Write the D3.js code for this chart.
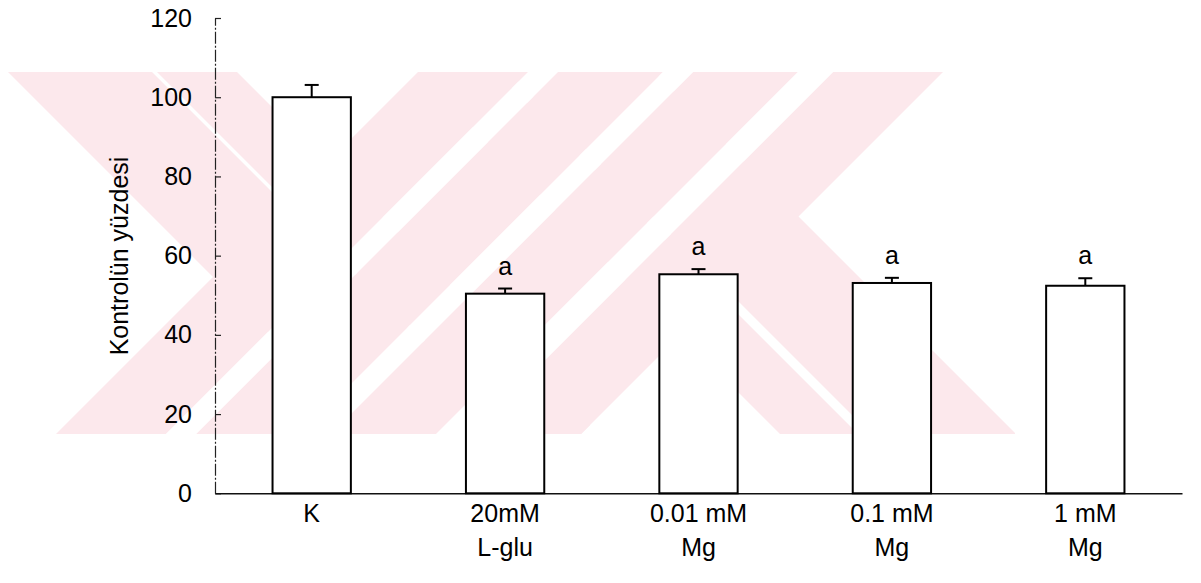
<!DOCTYPE html>
<html>
<head>
<meta charset="utf-8">
<script src="https://cdn.jsdelivr.net/npm/d3@7"></script>
<style>
    body { margin: 0; background: #ffffff; }
    svg { display: block; font-family: "Liberation Sans", Arial, Helvetica, sans-serif; }
</style>
</head>
<body>
<svg id="chart" width="1201" height="583"></svg>
<script>

var categories = ["K", "20mM L-glu", "0.01 mM Mg", "0.1 mM Mg", "1 mM Mg"]
var categoryLines = [["K"], ["20mM", "L-glu"], ["0.01 mM", "Mg"], ["0.1 mM", "Mg"], ["1 mM", "Mg"]]
var means = [100, 50.4, 55.3, 53.1, 52.4]
var errors = [3.1, 1.3, 1.3, 1.3, 1.9]
var significance = ["", "a", "a", "a", "a"]
var yTicks = [0, 20, 40, 60, 80, 100, 120]

// faint thesis watermark behind the plot, made of 45 degree bands
// kind "/" keeps x + y between from..to, kind "\\" keeps x - y between from..to
var watermarkBands = [
    { kind: "\\", from: -64, to: 80 },
    { kind: "\\", from: 85, to: 165, maxSum: 1015 },
    { kind: "/", from: 490, to: 600 },
    { kind: "/", from: 630, to: 735 },
    { kind: "/", from: 765, to: 870 },
    { kind: "/", from: 905, to: 1015 },
    { kind: "\\", from: 346, to: 424 },
    { kind: "\\", from: 437, to: 582 }
]
var watermarkGaps = [
    { kind: "/", from: 600, to: 630 },
    { kind: "/", from: 735, to: 765 },
    { kind: "/", from: 870, to: 905 }
]

var width = 1201
var height = 583
var axisLeftX = 215
var axisRightX = 1182
var axisBottomY = 493.3
var axisTopY = 18

var svg = d3.select("#chart")

var x = d3.scaleBand()
    .domain(categories)
    .range([axisLeftX, axisRightX])
    .paddingInner(0.595)
    .paddingOuter(0.2975)

var y = d3.scaleLinear()
    .domain([0, 120])
    .range([axisBottomY, axisTopY])

function bandPolygon(band, top, bottom) {
    if (band.kind === "/") {
        return [[band.from - top, top], [band.to - top, top], [band.to - bottom, bottom], [band.from - bottom, bottom]]
    }
    return [[band.from + top, top], [band.to + top, top], [band.to + bottom, bottom], [band.from + bottom, bottom]]
}

function drawWatermark(container) {
    var top = 72
    var bottom = 434
    var defs = container.append("defs")
    defs.append("clipPath").attr("id", "watermarkClip")
        .append("rect")
        .attr("x", 8).attr("y", top)
        .attr("width", 1015 - 8).attr("height", bottom - top)
    defs.append("clipPath").attr("id", "watermarkSumClip")
        .append("polygon")
        .attr("points", [[0, 0], [1015, 0], [1015 - 600, 600], [0, 600]].join(" "))

    var group = container.append("g").attr("clip-path", "url(#watermarkClip)")

    watermarkBands.forEach(function (band) {
        group.append("polygon")
            .attr("points", bandPolygon(band, top, bottom).join(" "))
            .attr("clip-path", band.maxSum ? "url(#watermarkSumClip)" : null)
            .attr("fill", "#fce8ec")
    })
    watermarkGaps.forEach(function (band) {
        group.append("polygon")
            .attr("points", bandPolygon(band, top, bottom).join(" "))
            .attr("fill", "#ffffff")
    })
}

drawWatermark(svg)

var yAxis = d3.axisLeft(y)
    .tickValues(yTicks)
    .tickSizeInner(-6)
    .tickSizeOuter(0)
    .tickPadding(23)

var yAxisGroup = svg.append("g")
    .attr("transform", "translate(" + axisLeftX + ",0)")
    .call(yAxis)

yAxisGroup.select(".domain")
    .attr("stroke", "#222")
    .attr("stroke-width", 1.2)
    .attr("stroke-dasharray", "12,2,2,2")
yAxisGroup.selectAll(".tick line").attr("stroke", "#222").attr("stroke-width", 1.2)
yAxisGroup.selectAll(".tick text")
    .attr("font-size", 25)
    .attr("font-family", "Liberation Sans, Arial, sans-serif")
    .attr("fill", "#000")

var xAxis = d3.axisBottom(x)
    .tickSize(0)
    .tickPadding(29)

var xAxisGroup = svg.append("g")
    .attr("transform", "translate(0," + axisBottomY + ")")
    .call(xAxis)

xAxisGroup.select(".domain")
    .attr("stroke", "#111")
    .attr("stroke-width", 1.6)

xAxisGroup.selectAll(".tick text")
    .attr("font-size", 25)
    .attr("font-family", "Liberation Sans, Arial, sans-serif")
    .attr("fill", "#000")
    .each(function (d, i) {
        var text = d3.select(this)
        text.text(null)
        categoryLines[i].forEach(function (line, j) {
            text.append("tspan")
                .attr("x", 0)
                .attr("dy", j === 0 ? 0 : 34)
                .text(line)
        })
    })

var bars = svg.append("g")

categories.forEach(function (category, i) {
    var left = x(category)
    var centre = left + x.bandwidth() / 2
    var capHalf = 7

    bars.append("rect")
        .attr("x", left)
        .attr("y", y(means[i]))
        .attr("width", x.bandwidth())
        .attr("height", y(0) - y(means[i]))
        .attr("fill", "#ffffff")
        .attr("stroke", "#000")
        .attr("stroke-width", 2)

    bars.append("line")
        .attr("x1", centre).attr("x2", centre)
        .attr("y1", y(means[i]))
        .attr("y2", y(means[i] + errors[i]))
        .attr("stroke", "#000")
        .attr("stroke-width", 2)

    bars.append("line")
        .attr("x1", centre - capHalf).attr("x2", centre + capHalf)
        .attr("y1", y(means[i] + errors[i]))
        .attr("y2", y(means[i] + errors[i]))
        .attr("stroke", "#000")
        .attr("stroke-width", 2)

    if (significance[i]) {
        bars.append("text")
            .attr("x", centre)
            .attr("y", y(means[i] + errors[i]) - 14)
            .attr("text-anchor", "middle")
            .attr("font-size", 25)
            .attr("fill", "#000")
            .text(significance[i])
    }
})

svg.append("text")
    .attr("transform", "translate(128,256) rotate(-90)")
    .attr("text-anchor", "middle")
    .attr("font-size", 25)
    .attr("fill", "#000")
    .text("Kontrolün yüzdesi")

</script>
</body>
</html>
